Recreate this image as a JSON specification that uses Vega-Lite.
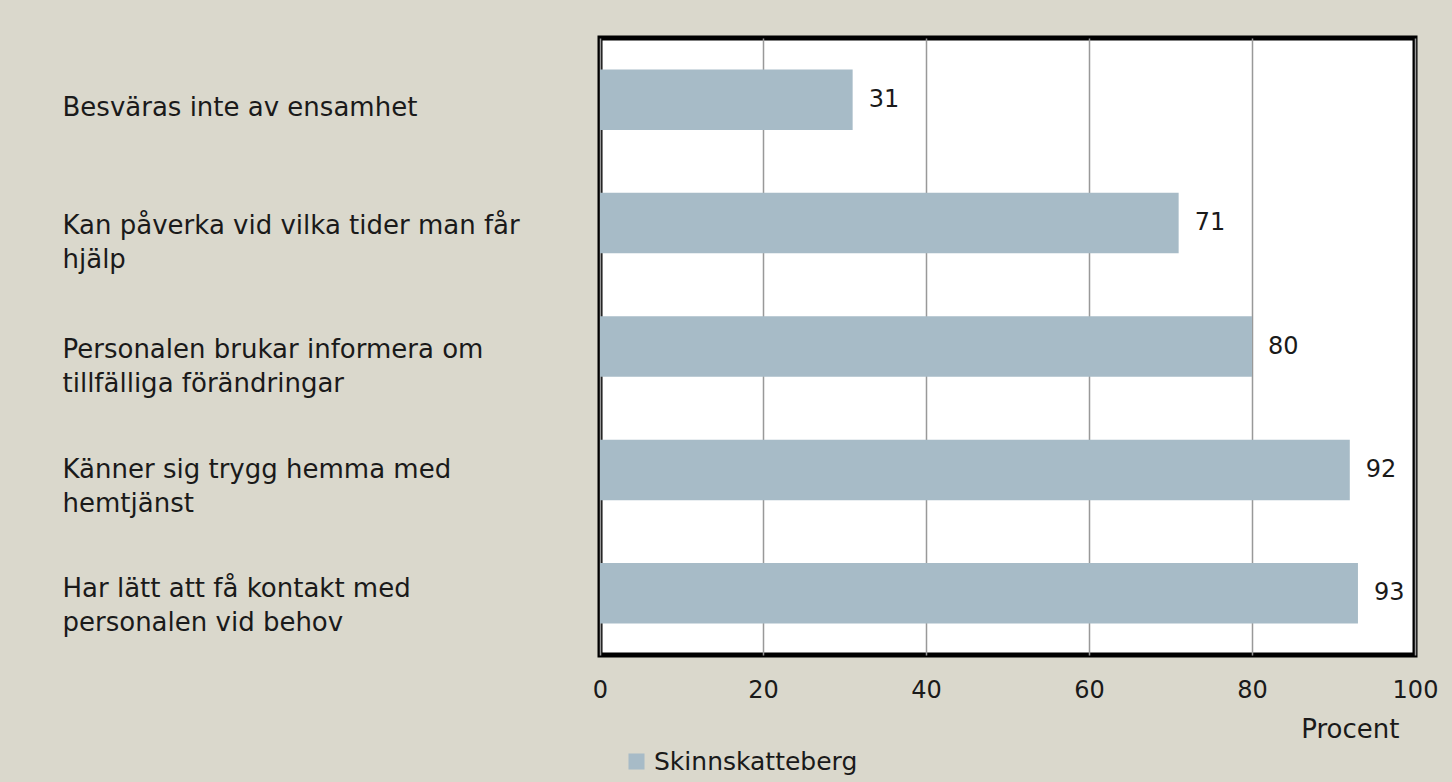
{
  "$schema": "https://vega.github.io/schema/vega-lite/v6.json",
  "width": 815,
  "height": 617,
  "autosize": {"type": "none"},
  "padding": {"left": 600, "top": 38, "right": 37, "bottom": 127},
  "background": "#DAD8CC",
  "config": {
    "font": "DejaVu Sans",
    "view": {"fill": "white", "stroke": "black", "strokeWidth": 5}
  },
  "data": {
    "values": [
      {"item": "Besväras inte av ensamhet", "value": 31, "serie": "Skinnskatteberg"},
      {"item": "Kan påverka vid vilka tider man får|hjälp", "value": 71, "serie": "Skinnskatteberg"},
      {"item": "Personalen brukar informera om|tillfälliga förändringar", "value": 80, "serie": "Skinnskatteberg"},
      {"item": "Känner sig trygg hemma med|hemtjänst", "value": 92, "serie": "Skinnskatteberg"},
      {"item": "Har lätt att få kontakt med|personalen vid behov", "value": 93, "serie": "Skinnskatteberg"}
    ]
  },
  "encoding": {
    "y": {
      "field": "item",
      "type": "nominal",
      "sort": null,
      "scale": {"paddingInner": 0.51, "paddingOuter": 0.255},
      "axis": {
        "title": null,
        "domain": false,
        "ticks": false,
        "tickSize": 0,
        "grid": false,
        "labelAlign": "left",
        "labelBaseline": "top",
        "labelOffset": {
          "condition": [
            {"test": "indexof(datum.value, 'Besväras') === 0", "value": -4.5},
            {"test": "indexof(datum.value, 'Känner') === 0", "value": -12.5},
            {"test": "indexof(datum.value, 'Har') === 0", "value": -17}
          ],
          "value": -10
        },
        "labelPadding": 538,
        "labelFontSize": 26,
        "labelColor": "#1a1a1a",
        "labelLineHeight": 34,
        "labelLimit": 0,
        "labelExpr": "split(datum.label, '|')"
      }
    },
    "x": {
      "field": "value",
      "type": "quantitative",
      "scale": {"domain": [0, 100], "nice": false},
      "axis": {
        "values": [0, 20, 40, 60, 80, 100],
        "title": "Procent",
        "titleFontSize": 26,
        "titleFontWeight": "normal",
        "titleColor": "#1a1a1a",
        "titleAlign": "right",
        "titleAnchor": null,
        "titleX": 799,
        "titleY": 74,
        "titleBaseline": "middle",
        "domain": false,
        "ticks": false,
        "tickSize": 0,
        "labelPadding": 35,
        "labelBaseline": "middle",
        "labelFontSize": 24,
        "labelColor": "#1a1a1a",
        "labelFlush": false,
        "grid": true,
        "gridColor": "#999999",
        "gridWidth": 1.5
      }
    }
  },
  "layer": [
    {
      "mark": {"type": "bar"},
      "encoding": {
        "color": {
          "field": "serie",
          "type": "nominal",
          "scale": {"range": ["#A7BBC7"]},
          "legend": {
            "title": null,
            "orient": "none",
            "legendX": 24,
            "legendY": 711,
            "symbolType": "square",
            "symbolSize": 256,
            "symbolStrokeWidth": 0,
            "labelFontSize": 25,
            "labelLimit": 0,
            "labelColor": "#1a1a1a",
            "labelOffset": 5
          }
        }
      }
    },
    {
      "mark": {"type": "text", "align": "left", "baseline": "middle", "dx": 16, "fontSize": 24, "color": "#1a1a1a"},
      "encoding": {"text": {"field": "value", "type": "quantitative"}}
    }
  ]
}
